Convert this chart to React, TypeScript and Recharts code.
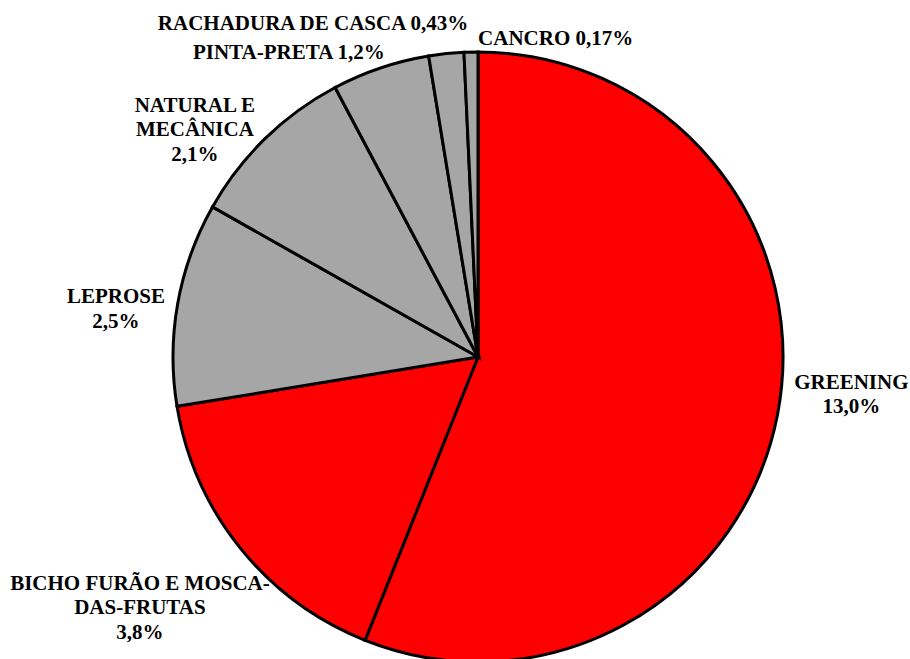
import { PieChart, Pie, Cell } from 'recharts';

const categories = [
  'GREENING',
  'BICHO FURÃO E MOSCA-\nDAS-FRUTAS',
  'LEPROSE',
  'NATURAL E\nMECÂNICA',
  'PINTA-PRETA',
  'RACHADURA DE CASCA',
  'CANCRO',
];

const losses = [13.0, 3.8, 2.5, 2.1, 1.2, 0.43, 0.17];

const sliceColors = ['#FF0000', '#FF0000', '#A6A6A6', '#A6A6A6', '#A6A6A6', '#A6A6A6', '#A6A6A6'];

// label placement relative to the slice's outside point (like the dragged labels in Excel)
const labelLayout = [
  { dx: 62, dy: -28, inline: false },
  { dx: -91, dy: 34, inline: false },
  { dx: -50, dy: 2, inline: false },
  { dx: -62, dy: -18, inline: false },
  { dx: -88, dy: 2, inline: true },
  { dx: -132, dy: -12, inline: true },
  { dx: 85, dy: 5, inline: true },
];

const data = categories.map((name, i) => ({ name, value: losses[i] }));

const RAD = Math.PI / 180;

const fmt = (v: number) => v.toFixed(v < 1 ? 2 : 1).replace('.', ',') + '%';

const renderLabel = (props: any) => {
  const { cx, cy, midAngle, outerRadius, index, value } = props;
  const r = outerRadius + 12;
  const px = cx + r * Math.cos(-midAngle * RAD);
  const py = cy + r * Math.sin(-midAngle * RAD);
  const lay = labelLayout[index];
  const x = px + lay.dx;
  const y = py + lay.dy;
  const lines = categories[index].split('\n');
  if (lay.inline) lines[lines.length - 1] += ' ' + fmt(value);
  else lines.push(fmt(value));
  return (
    <text
      key={`lbl-${index}`}
      x={x}
      y={y}
      textAnchor="middle"
      fill="#000"
      fontFamily="Liberation Serif, serif"
      fontWeight="bold"
      fontSize={21}
    >
      {lines.map((ln, i) => (
        <tspan key={i} x={x} dy={i === 0 ? 0 : 24.5}>
          {ln}
        </tspan>
      ))}
    </text>
  );
};

export default function App() {
  return (
    <div style={{ position: 'fixed', left: 0, top: 0, width: 910, height: 659, background: '#fff' }}>
      <PieChart width={910} height={659} margin={{ top: 0, right: 0, bottom: 0, left: 0 }}>
        <Pie
          data={data}
          dataKey="value"
          nameKey="name"
          cx={478}
          cy={357}
          outerRadius={305}
          startAngle={90}
          endAngle={-270}
          stroke="#000"
          strokeWidth={3}
          label={renderLabel}
          labelLine={false}
          isAnimationActive={false}
        >
          {data.map((d, i) => (
            <Cell key={d.name} fill={sliceColors[i]} />
          ))}
        </Pie>
      </PieChart>
    </div>
  );
}
